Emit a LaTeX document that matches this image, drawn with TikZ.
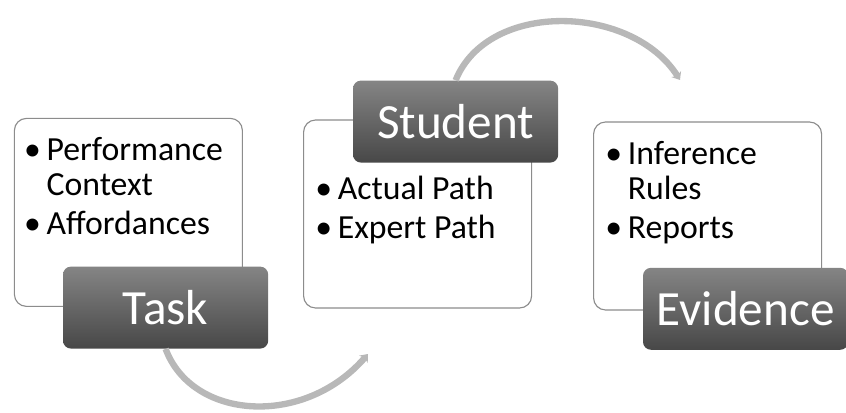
\documentclass[tikz,border=0pt]{standalone}
\usepackage{fontspec}
\setmainfont{Carlito}
\usepackage{tikz}
\usetikzlibrary{positioning,arrows.meta}

\tikzset{
  card/.style={draw=black!45, line width=0.8pt, rounded corners=0.3cm, fill=white,
    minimum width=5.7cm, minimum height=4.7cm},
  tag/.style={rounded corners=0.2cm, top color=black!48, bottom color=black!72,
    text=white, font=\fontsize{35}{40}\selectfont,
    minimum width=5.13cm, minimum height=2.05cm},
  items/.style={inner sep=0pt, align=left, font=\fontsize{24}{25}\selectfont},
  flow/.style={draw=black!28, line width=4.5pt,
    -{Stealth[length=5pt, width=8pt, inset=1.5pt]}}
}

% bullet with hanging indent
\newcommand{\bitem}[1]{\makebox[16pt][l]{\textbullet}#1}
\newcommand{\hang}{\hspace*{16pt}}

\begin{document}
\begin{tikzpicture}
        \useasboundingbox (0,0) rectangle (21.15,10.3);

        % Define boxes
        \node[card] (taskbox) at (3.21,4.99) {};
        \node[card] (studentbox) at (10.44,4.95) {};
        \node[card] (evidencebox) at (17.69,4.90) {};

        % Define lists
        \node[items, below right=0.48cm and 0.25cm of taskbox.north west] (tasklist)
          {\bitem{Performance}\\\hang Context\\[3pt]\bitem{Affordances}};
        \node[items, below right=1.4cm and 0.3cm of studentbox.north west] (studentlist)
          {\bitem{Actual Path}\\[3pt]\bitem{Expert Path}};
        \node[items, below right=0.48cm and 0.3cm of evidencebox.north west] (evidencelist)
          {\bitem{Inference}\\\hang Rules\\[3pt]\bitem{Reports}};

        % Define tags
        \node[tag] (tasktag) at (4.14,2.61) {Task};
        \node[tag] (studenttag) at (11.39,7.26) {Student};
        \node[tag] (evidencetag) at (18.64,2.58) {Evidence};

        % Define arrows
        \draw[flow] (tasktag.south) .. controls (4.8,-0.2) and (7.6,-0.4) .. (9.2,1.45);
        \draw[flow] (studenttag.north) .. controls (12.2,10.3) and (15.8,10.2) .. (17.0,8.3);
    \end{tikzpicture}
\end{document}
